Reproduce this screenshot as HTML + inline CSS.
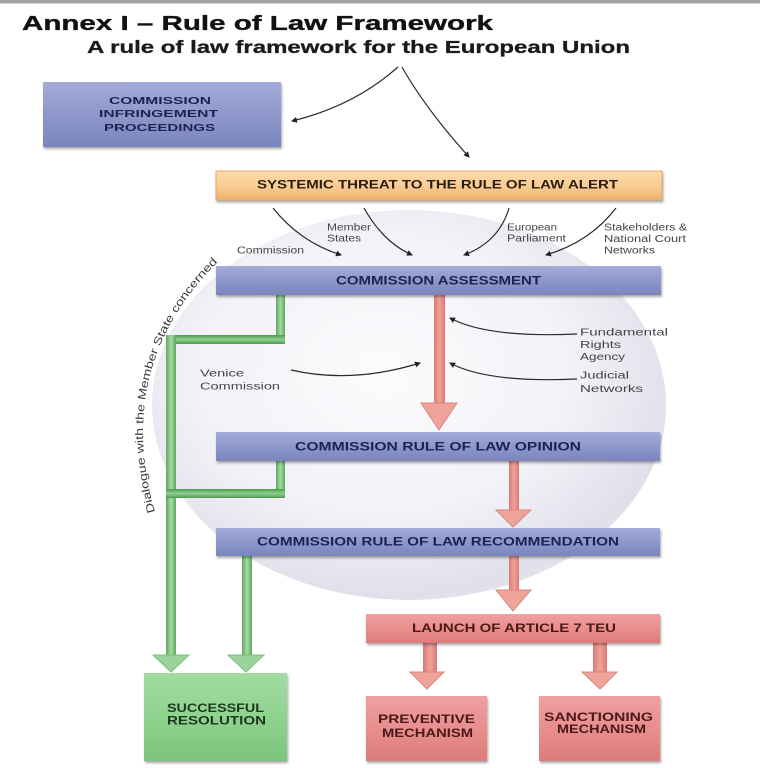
<!DOCTYPE html>
<html>
<head>
<meta charset="utf-8">
<style>
  html,body{margin:0;padding:0;background:#fff;}
  svg{display:block;}
  .bar{font-family:"Liberation Sans",sans-serif;font-weight:bold;fill:#1c2352;}
  .lbl{font-family:"Liberation Sans",sans-serif;font-size:10px;fill:#444;}
</style>
</head>
<body>
<svg width="760" height="768" viewBox="0 0 760 768" xmlns="http://www.w3.org/2000/svg">
  <defs>
    <radialGradient id="circ" cx="0.45" cy="0.42" r="0.6">
      <stop offset="0" stop-color="#fcfcfe"/>
      <stop offset="0.6" stop-color="#f2f2f7"/>
      <stop offset="0.95" stop-color="#e0e0eb"/>
      <stop offset="1" stop-color="#e3e3ed"/>
    </radialGradient>
    <linearGradient id="blue" x1="0" y1="0" x2="0" y2="1">
      <stop offset="0" stop-color="#a3acd9"/>
      <stop offset="0.5" stop-color="#8d97cb"/>
      <stop offset="1" stop-color="#7a85bd"/>
    </linearGradient>
    <linearGradient id="peach" x1="0" y1="0" x2="0" y2="1">
      <stop offset="0" stop-color="#fcdcae"/>
      <stop offset="0.6" stop-color="#f8c98e"/>
      <stop offset="1" stop-color="#eeb06e"/>
    </linearGradient>
    <linearGradient id="pink" x1="0" y1="0" x2="0" y2="1">
      <stop offset="0" stop-color="#f0a0a0"/>
      <stop offset="0.5" stop-color="#e98d8d"/>
      <stop offset="1" stop-color="#dc7c7c"/>
    </linearGradient>
    <linearGradient id="green" x1="0" y1="0" x2="0" y2="1">
      <stop offset="0" stop-color="#a2dca2"/>
      <stop offset="0.5" stop-color="#8fd28f"/>
      <stop offset="1" stop-color="#7cc47c"/>
    </linearGradient>
    <linearGradient id="pshaft" x1="0" y1="0" x2="1" y2="0">
      <stop offset="0" stop-color="#d97a74"/>
      <stop offset="0.5" stop-color="#f0a29a"/>
      <stop offset="1" stop-color="#d97a74"/>
    </linearGradient>
    <linearGradient id="gshaftV" x1="0" y1="0" x2="1" y2="0">
      <stop offset="0" stop-color="#5ea85e"/>
      <stop offset="0.5" stop-color="#a6daa6"/>
      <stop offset="1" stop-color="#5ea85e"/>
    </linearGradient>
    <linearGradient id="gshaftH" x1="0" y1="0" x2="0" y2="1">
      <stop offset="0" stop-color="#4f9a4f"/>
      <stop offset="0.5" stop-color="#8fcf8f"/>
      <stop offset="1" stop-color="#4f9a4f"/>
    </linearGradient>
    <marker id="ah" markerWidth="6" markerHeight="6" refX="5" refY="3" orient="auto" markerUnits="userSpaceOnUse">
      <path d="M0,0 L6,3 L0,6 Z" fill="#222"/>
    </marker>
    <filter id="sh" x="-5%" y="-20%" width="110%" height="150%">
      <feGaussianBlur in="SourceAlpha" stdDeviation="1.2"/>
      <feOffset dx="1" dy="2" result="o"/>
      <feComponentTransfer><feFuncA type="linear" slope="0.35"/></feComponentTransfer>
      <feMerge><feMergeNode/><feMergeNode in="SourceGraphic"/></feMerge>
    </filter>
  </defs>

  <!-- top rule -->
  <rect x="0" y="0" width="760" height="3" fill="#a2a2a2"/>
  <rect x="0" y="3" width="760" height="1" fill="#d6d6d6"/>

  <!-- titles -->
  <text x="22" y="30" font-family="Liberation Sans, sans-serif" font-weight="bold" font-size="20.5" fill="#111" stroke="#111" stroke-width="0.35" textLength="471" lengthAdjust="spacingAndGlyphs">Annex I – Rule of Law Framework</text>
  <text x="87" y="53" font-family="Liberation Sans, sans-serif" font-weight="bold" font-size="17.5" fill="#1a1a1a" stroke="#1a1a1a" stroke-width="0.3" textLength="543" lengthAdjust="spacingAndGlyphs">A rule of law framework for the European Union</text>

  <!-- background ellipse -->
  <ellipse cx="409" cy="405" rx="257" ry="195" fill="url(#circ)"/>

  <!-- dialogue curved text -->
  <path id="dlg" d="M 155 512 Q 112 362 224 256" fill="none"/>
  <text font-family="Liberation Sans, sans-serif" font-size="11" fill="#3a3a3a">
    <textPath href="#dlg" textLength="272" lengthAdjust="spacingAndGlyphs">Dialogue with the Member State concerned</textPath>
  </text>

  <!-- top curved arrows -->
  <g fill="none" stroke="#2a2a2a" stroke-width="1.2" marker-end="url(#ah)">
    <path d="M 398 67 Q 354 106 292 121"/>
    <path d="M 402 67 Q 425 108 469 157"/>
    <path d="M 273 208 Q 300 242 341 255"/>
    <path d="M 364 208 Q 383 242 412 255"/>
    <path d="M 509 208 Q 499 242 464 255"/>
    <path d="M 616 208 Q 590 242 546 255"/>
    <path d="M 577 334 Q 487 338 450 318"/>
    <path d="M 577 379 Q 487 383 450 363"/>
    <path d="M 291 370 Q 352 384 420 363"/>
  </g>

  <!-- Infringement box -->
  <g filter="url(#sh)">
    <rect x="43" y="82" width="238" height="65" fill="url(#blue)"/>
  </g>
  <text class="bar" x="109" y="104" font-size="10.5" textLength="102" lengthAdjust="spacingAndGlyphs">COMMISSION</text>
  <text class="bar" x="99" y="117" font-size="10.5" textLength="119" lengthAdjust="spacingAndGlyphs">INFRINGEMENT</text>
  <text class="bar" x="104" y="131" font-size="10.5" textLength="111" lengthAdjust="spacingAndGlyphs">PROCEEDINGS</text>

  <!-- Systemic threat bar -->
  <g filter="url(#sh)">
    <rect x="216" y="171" width="446" height="29" fill="url(#peach)" stroke="#e6a868" stroke-width="1"/>
  </g>
  <text class="bar" x="257" y="188.5" font-size="11.5" style="fill:#2a1d10" textLength="361" lengthAdjust="spacingAndGlyphs">SYSTEMIC THREAT TO THE RULE OF LAW ALERT</text>

  <!-- small labels -->
  <text class="lbl" x="237" y="253.5" textLength="67" lengthAdjust="spacingAndGlyphs">Commission</text>
  <text class="lbl" x="327" y="230.5" textLength="44" lengthAdjust="spacingAndGlyphs">Member</text>
  <text class="lbl" x="327" y="241.5" textLength="34" lengthAdjust="spacingAndGlyphs">States</text>
  <text class="lbl" x="507" y="230.5" textLength="50" lengthAdjust="spacingAndGlyphs">European</text>
  <text class="lbl" x="507" y="241.5" textLength="59" lengthAdjust="spacingAndGlyphs">Parliament</text>
  <text class="lbl" x="604" y="230.5" textLength="83" lengthAdjust="spacingAndGlyphs">Stakeholders &amp;</text>
  <text class="lbl" x="604" y="242" textLength="82" lengthAdjust="spacingAndGlyphs">National Court</text>
  <text class="lbl" x="604" y="253.5" textLength="51" lengthAdjust="spacingAndGlyphs">Networks</text>

  <text class="lbl" x="580" y="335.5" font-size="11" textLength="88" lengthAdjust="spacingAndGlyphs">Fundamental</text>
  <text class="lbl" x="580" y="348" font-size="11" textLength="41" lengthAdjust="spacingAndGlyphs">Rights</text>
  <text class="lbl" x="580" y="360" font-size="11" textLength="45" lengthAdjust="spacingAndGlyphs">Agency</text>
  <text class="lbl" x="580" y="378.5" font-size="11" textLength="49" lengthAdjust="spacingAndGlyphs">Judicial</text>
  <text class="lbl" x="580" y="392" font-size="11" textLength="63" lengthAdjust="spacingAndGlyphs">Networks</text>
  <text class="lbl" x="200" y="376.5" font-size="11" textLength="44" lengthAdjust="spacingAndGlyphs">Venice</text>
  <text class="lbl" x="200" y="389.5" font-size="11" textLength="80" lengthAdjust="spacingAndGlyphs">Commission</text>

  <!-- green connectors -->
  <rect x="276" y="295" width="9" height="49" fill="url(#gshaftV)"/>
  <rect x="166" y="335" width="119" height="9" fill="url(#gshaftH)"/>
  <rect x="166" y="335" width="10" height="322" fill="url(#gshaftV)"/>
  <rect x="276" y="461" width="9" height="37" fill="url(#gshaftV)"/>
  <rect x="166" y="489" width="119" height="9" fill="url(#gshaftH)"/>
  <rect x="242" y="556" width="10" height="101" fill="url(#gshaftV)"/>
  <polygon points="153,655 189,655 171,672" fill="#9ad49a" stroke="#7cbf7c" stroke-width="1"/>
  <polygon points="228,655 264,655 246,672" fill="#9ad49a" stroke="#7cbf7c" stroke-width="1"/>

  <!-- pink arrows -->
  <rect x="434" y="295" width="11" height="110" fill="url(#pshaft)"/>
  <polygon points="421,403 457,403 439,430" fill="#eea49b" stroke="#dc857d" stroke-width="1"/>
  <rect x="509" y="461" width="10" height="51" fill="url(#pshaft)"/>
  <polygon points="496,510 531,510 513,527" fill="#eea49b" stroke="#dc857d" stroke-width="1"/>
  <rect x="509" y="556" width="10" height="36" fill="url(#pshaft)"/>
  <polygon points="496,590 531,590 513,611" fill="#eea49b" stroke="#dc857d" stroke-width="1"/>
  <rect x="423" y="643" width="14" height="31" fill="url(#pshaft)"/>
  <polygon points="410,672 444,672 427,689" fill="#eea49b" stroke="#dc857d" stroke-width="1"/>
  <rect x="593" y="643" width="14" height="31" fill="url(#pshaft)"/>
  <polygon points="582,672 617,672 600,689" fill="#eea49b" stroke="#dc857d" stroke-width="1"/>

  <!-- blue bars -->
  <g filter="url(#sh)">
    <rect x="216" y="266" width="445" height="29" fill="url(#blue)"/>
    <rect x="216" y="432" width="444" height="29" fill="url(#blue)"/>
    <rect x="216" y="528" width="444" height="28" fill="url(#blue)"/>
  </g>
  <text class="bar" x="336" y="284.5" font-size="12" textLength="205" lengthAdjust="spacingAndGlyphs">COMMISSION ASSESSMENT</text>
  <text class="bar" x="295" y="450.5" font-size="12" textLength="286" lengthAdjust="spacingAndGlyphs">COMMISSION RULE OF LAW OPINION</text>
  <text class="bar" x="257" y="545.5" font-size="12" textLength="362" lengthAdjust="spacingAndGlyphs">COMMISSION RULE OF LAW RECOMMENDATION</text>

  <!-- pink boxes -->
  <g filter="url(#sh)">
    <rect x="366" y="614" width="294" height="29" fill="url(#pink)"/>
    <rect x="366" y="696" width="121" height="65" fill="url(#pink)"/>
    <rect x="539" y="696" width="121" height="65" fill="url(#pink)"/>
  </g>
  <text class="bar" x="412" y="632" font-size="11.5" style="fill:#4a1a1a" textLength="204" lengthAdjust="spacingAndGlyphs">LAUNCH OF ARTICLE 7 TEU</text>
  <text class="bar" x="378" y="723" font-size="11.5" style="fill:#4a1a1a" textLength="97" lengthAdjust="spacingAndGlyphs">PREVENTIVE</text>
  <text class="bar" x="382" y="737" font-size="11.5" style="fill:#4a1a1a" textLength="91" lengthAdjust="spacingAndGlyphs">MECHANISM</text>
  <text class="bar" x="544" y="721" font-size="11.5" style="fill:#4a1a1a" textLength="109" lengthAdjust="spacingAndGlyphs">SANCTIONING</text>
  <text class="bar" x="557" y="733" font-size="11.5" style="fill:#4a1a1a" textLength="89" lengthAdjust="spacingAndGlyphs">MECHANISM</text>

  <!-- green box -->
  <g filter="url(#sh)">
    <rect x="144" y="673" width="143" height="88" fill="url(#green)"/>
  </g>
  <text class="bar" x="167" y="712" font-size="11.5" style="fill:#1c381c" textLength="97" lengthAdjust="spacingAndGlyphs">SUCCESSFUL</text>
  <text class="bar" x="167" y="724.5" font-size="11.5" style="fill:#1c381c" textLength="99" lengthAdjust="spacingAndGlyphs">RESOLUTION</text>
</svg>
</body>
</html>
